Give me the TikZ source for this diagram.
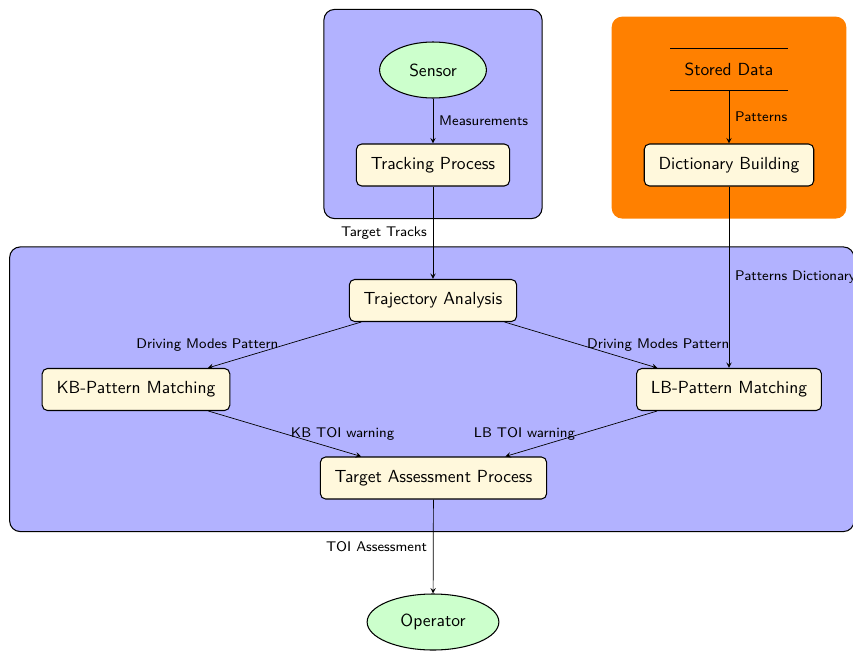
\documentclass[tikz,border=0pt]{standalone}
\usetikzlibrary{shapes.geometric,arrows,fit,backgrounds}
\renewcommand{\familydefault}{\sfdefault}
\definecolor{cornsilk}{RGB}{255,248,220}
\begin{document}
\begin{tikzpicture}[x=0.5714pt,y=-0.5714pt,
  procbox/.style={rectangle,draw,semithick,rounded corners=3pt,fill=cornsilk,
    minimum height=24pt,inner xsep=8.2pt},
  agent/.style={ellipse,draw,semithick,fill=green!20,minimum height=32pt,inner xsep=8pt},
  storebox/.style={rectangle,minimum height=23.4pt,inner xsep=8pt},
  group/.style={rectangle,draw,semithick,rounded corners=6pt,fill=blue!30,inner sep=18.3pt},
  datagroup/.style={rectangle,rounded corners=6pt,fill=orange,inner sep=18.3pt},
  lbl/.style={font=\footnotesize},
  flow/.style={->,>=stealth}]
\useasboundingbox (0,0) rectangle (853,650);

% nodes
\node[agent] (sensor) at (433,70) {Sensor};
\node[procbox] (track) at (433,165) {Tracking Process};
\node[storebox] (stored) at (729,69.5) {Stored Data};
\node[procbox] (dict) at (729,165) {Dictionary Building};
\node[procbox] (traj) at (433,300.5) {Trajectory Analysis};
\node[procbox] (kb) at (136,389.5) {KB-Pattern Matching};
\node[procbox] (lb) at (729,389.5) {LB-Pattern Matching};
\node[procbox] (tap) at (433.5,478) {Target Assessment Process};
\node[agent] (operator) at (433,622) {Operator};

% data store lines
\draw[thick] (stored.north west) -- (stored.north east);
\draw[thick] (stored.south west) -- (stored.south east);

% group backgrounds
\begin{scope}[on background layer]
  \node[group,fit=(sensor)(track)] (sensing) {};
  \node[datagroup,fit=(stored)(dict)] (library) {};
  \node[group,fit=(traj)(kb)(lb)(tap)] (analysis) {};
\end{scope}

% connectors
\draw[flow] (sensor) -- node[lbl,right] {Measurements} (track);
\draw[flow] (stored) -- node[lbl,right] {Patterns} (dict);
\draw[flow] (track) -- node[lbl,left] {Target Tracks} (traj);
\draw[flow] (dict) -- node[lbl,right] {Patterns Dictionary} (lb);
\draw[flow] (traj) -- node[lbl,left] {Driving Modes Pattern} (kb);
\draw[flow] (traj) -- node[lbl,right] {Driving Modes Pattern} (lb);
\draw[flow] (kb) -- node[lbl,right] {KB TOI warning} (tap);
\draw[flow] (lb) -- node[lbl,left] {LB TOI warning} (tap);
\draw[flow] (tap) -- node[lbl,left] {TOI Assessment} (operator);
\end{tikzpicture}
\end{document}
